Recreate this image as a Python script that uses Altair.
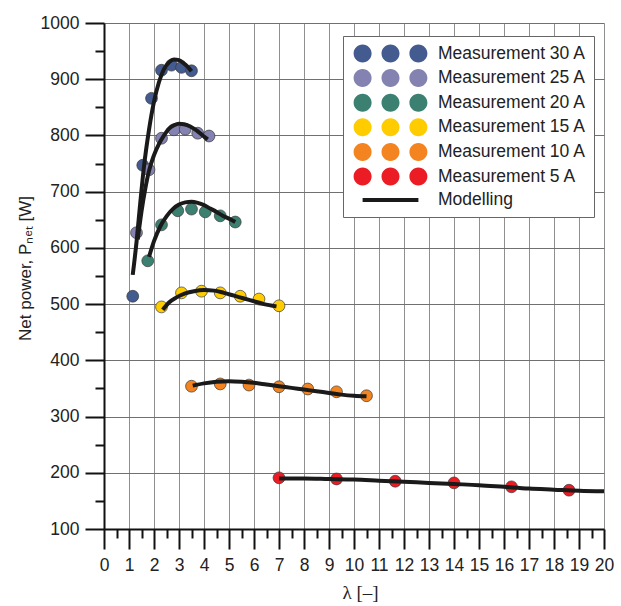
import altair as alt
import pandas as pd

# ---------------- data ----------------
series_names = ["Measurement 30 A", "Measurement 25 A", "Measurement 20 A",
                "Measurement 15 A", "Measurement 10 A", "Measurement 5 A"]
series_colors = ["#445b90", "#8482b1", "#3b8070", "#ffcc00", "#f3841f", "#ec1c24"]

# measured points (lambda, net power W)
m30_x = [1.15, 1.55, 1.9, 2.3, 2.7, 3.1, 3.5]
m30_y = [514, 747, 866, 916, 925, 921, 915]
m25_x = [1.3, 1.8, 2.3, 2.8, 3.25, 3.75, 4.2]
m25_y = [627, 739, 795, 810, 811, 804, 799]
m20_x = [1.75, 2.3, 2.95, 3.5, 4.05, 4.65, 5.25]
m20_y = [577, 641, 666, 669, 664, 657, 646]
m15_x = [2.3, 3.1, 3.9, 4.65, 5.45, 6.2, 7.0]
m15_y = [495, 520, 523, 520, 514, 509, 497]
m10_x = [3.5, 4.65, 5.8, 7.0, 8.15, 9.3, 10.5]
m10_y = [354, 358, 356, 353, 349, 344, 337]
m5_x = [7.0, 9.3, 11.65, 14.0, 16.3, 18.6]
m5_y = [191, 189, 185, 182, 175, 169]

# modelling curves
c30_x = [1.15, 1.3, 1.45, 1.6, 1.8, 2.0, 2.2, 2.4, 2.6, 2.8, 3.0, 3.2, 3.35, 3.5]
c30_y = [552, 610, 680, 745, 810, 860, 895, 918, 930, 935, 934, 928, 922, 914]
c25_x = [1.35, 1.5, 1.65, 1.8, 2.0, 2.2, 2.4, 2.6, 2.8, 3.0, 3.2, 3.45, 3.7, 3.95, 4.15]
c25_y = [615, 665, 705, 737, 765, 785, 800, 812, 818, 821, 820, 816, 809, 800, 793]
c20_x = [1.8, 2.0, 2.25, 2.5, 2.75, 3.0, 3.25, 3.5, 3.75, 4.0, 4.25, 4.5, 4.75, 5.0, 5.25]
c20_y = [584, 612, 638, 656, 669, 677, 681, 682, 680, 676, 670, 664, 657, 652, 646]
c15_x = [2.35, 2.6, 2.9, 3.25, 3.6, 4.0, 4.4, 4.8, 5.2, 5.6, 6.0, 6.4, 6.9]
c15_y = [490, 503, 512, 519, 523, 525, 524, 520, 515, 510, 505, 500, 496]
c10_x = [3.55, 4.0, 4.5, 5.0, 5.5, 6.0, 6.5, 7.0, 7.5, 8.0, 8.5, 9.0, 9.5, 10.0, 10.5]
c10_y = [355, 359, 362, 363, 362, 360, 357, 354, 351, 348, 345, 342, 339, 337, 336]
c5_x = [7.0, 8.0, 9.0, 10.0, 11.0, 12.0, 13.0, 14.0, 15.0, 16.0, 17.0, 18.0, 19.0, 20.0]
c5_y = [190, 190, 189, 188, 186, 184, 182, 180, 178, 175, 172, 170, 168, 167]

x_ticks = list(range(0, 21))
x_minor = [i + 0.5 for i in range(0, 20)]
y_ticks = list(range(100, 1001, 100))
y_minor = list(range(150, 1000, 100))

meas_x = [m30_x, m25_x, m20_x, m15_x, m10_x, m5_x]
meas_y = [m30_y, m25_y, m20_y, m15_y, m10_y, m5_y]
curv_x = [c30_x, c25_x, c20_x, c15_x, c10_x, c5_x]
curv_y = [c30_y, c25_y, c20_y, c15_y, c10_y, c5_y]

rows = []
for name, col, xs, ys in zip(series_names, series_colors, meas_x, meas_y):
    for a, b in zip(xs, ys):
        rows.append({"x": a, "y": b, "series": name, "color": col})
meas = pd.DataFrame(rows)

rows = []
for name, xs, ys in zip(series_names, curv_x, curv_y):
    for a, b in zip(xs, ys):
        rows.append({"x": a, "y": b, "current": name})
model = pd.DataFrame(rows)

# ---------------- styling ----------------
def circ(cx):
    return f"M{cx-1},0A1,1,0,1,0,{cx+1},0A1,1,0,1,0,{cx-1},0Z"

three_dots = circ(-3.1) + circ(0) + circ(3.1)
line_sym = "M-3.1,-0.22L3.1,-0.22L3.1,0.22L-3.1,0.22Z"

legend_domain = series_names + ["Modelling"]
legend_colors = series_colors + ["#1a1a1a"]
legend_shapes = [three_dots] * 6 + [line_sym]

FONT = "Liberation Sans"
xscale = alt.Scale(domain=[0, 20], nice=False, zero=False)
yscale = alt.Scale(domain=[100, 1000], nice=False, zero=False)

major_x = alt.Axis(orient="bottom", values=x_ticks, format="d", grid=True, gridColor="#8f8f8f", gridWidth=1,
                   domainColor="#111111", domainWidth=2, tickColor="#111111", tickWidth=2,
                   tickSize=20, labelFont=FONT, labelFontSize=17.5, labelColor="#222222",
                   labelPadding=7, labelFlush=False, labelOverlap=False,
                   title="λ [–]", titleFont="Liberation Serif", titleFontSize=19,
                   titleFontWeight="normal", titleColor="#222222",
                   titleX=256, titleY=69, titleBaseline="alphabetic", titleAlign="center")
major_y = alt.Axis(orient="left", values=y_ticks, format="d", grid=True, gridColor="#707070", gridWidth=1,
                   domainColor="#111111", domainWidth=2, tickColor="#111111", tickWidth=2,
                   tickSize=19, labelFont=FONT, labelFontSize=17.5, labelColor="#222222",
                   labelPadding=6, labelFlush=False, labelOverlap=False,
                   title="Net power, Pₙₑₜ [W]", titleFont=FONT, titleFontSize=17,
                   titleFontWeight="normal", titleColor="#222222",
                   titleX=-70, titleY=245, titleAngle=270, titleBaseline="bottom",
                   titleAlign="center")
minor_x = alt.Axis(orient="bottom", values=x_minor, labels=False, grid=False, domain=False, tickSize=9,
                   tickWidth=2, tickColor="#111111", title="")
minor_y = alt.Axis(orient="left", values=y_minor, labels=False, grid=False, domain=False, tickSize=9,
                   tickWidth=2, tickColor="#111111", title="")

points = alt.Chart(meas).mark_point(
    filled=True, shape="circle", size=140, opacity=1, stroke="#3a3a3a", strokeWidth=0.7
).encode(
    x=alt.X("x:Q", scale=xscale, axis=major_x),
    y=alt.Y("y:Q", scale=yscale, axis=major_y),
    fill=alt.Fill("color:N", scale=None),
)

lines = alt.Chart(model).mark_line(
    color="#1a1a1a", strokeWidth=4, interpolate="monotone"
).encode(
    x=alt.X("x:Q", scale=xscale, axis=minor_x),
    y=alt.Y("y:Q", scale=yscale, axis=minor_y),
    detail="current:N",
)

leg = alt.Legend(orient="none", legendX=239, legendY=13, title=None, padding=8,
                 fillColor="white", strokeColor="#666666", symbolSize=324,
                 symbolOpacity=1, symbolStrokeColor="#3a3a3a", symbolStrokeWidth=0.7,
                 symbolOffset=30, labelOffset=38, rowPadding=3.6,
                 labelFont=FONT, labelFontSize=17.5, labelColor="#222222", labelLimit=300)

legend_layer = alt.Chart(meas).mark_point(filled=True, opacity=0, size=324).encode(
    x=alt.X("x:Q", scale=xscale, axis=None),
    y=alt.Y("y:Q", scale=yscale, axis=None),
    color=alt.Color("series:N", scale=alt.Scale(domain=legend_domain, range=legend_colors), legend=leg),
    shape=alt.Shape("series:N", scale=alt.Scale(domain=legend_domain, range=legend_shapes), legend=leg),
)

chart = alt.layer(points, lines, legend_layer).resolve_axis(
    x="independent", y="independent"
).properties(
    width=500, height=506,
    padding={"left": 104, "top": 23, "right": 17, "bottom": 77},
    autosize=alt.AutoSizeParams(type="none"),
    background="white",
).configure_view(stroke=None)

chart.save("out.html", embed_options={"renderer": "svg", "actions": False})
